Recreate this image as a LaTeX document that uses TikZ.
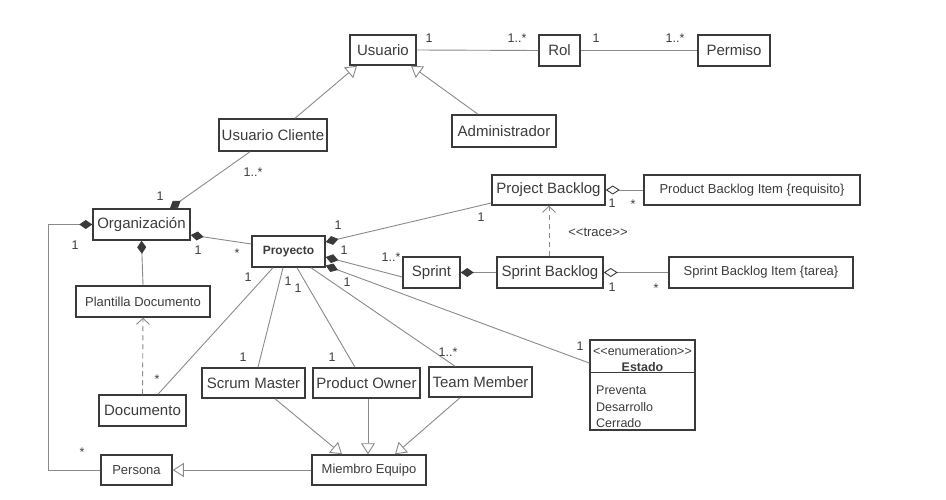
\documentclass[tikz,border=0pt]{standalone}
\usepackage{fontspec}
\setmainfont{Liberation Sans}
\usetikzlibrary{arrows.meta,calc}
\definecolor{boxc}{HTML}{3A3A3A}
\definecolor{linec}{HTML}{8A8A8A}
\definecolor{txt}{HTML}{3C3C3C}
\begin{document}
\begin{tikzpicture}[x=1pt,y=-1pt,
  box/.style={draw=boxc, line width=1.5pt, inner sep=0pt, text=txt, font=\fontsize{15}{17}\selectfont},
  sbox/.style={box, font=\fontsize{13}{15}\selectfont},
  conn/.style={draw=linec, line width=0.9pt},
  gen/.style={conn, -{Triangle[open, length=11pt, width=14pt]}},
  comp/.style={conn, {Diamond[length=13pt, width=9pt, color=boxc]}-},
  agg/.style={conn, {Diamond[open, length=14pt, width=9pt, color=boxc]}-},
  dep/.style={conn, dashed, dash pattern=on 5pt off 4pt, -{Straight Barb[length=6pt, width=13pt]}},
  mult/.style={inner sep=0pt, text=txt, font=\fontsize{12.5}{14}\selectfont},
  etext/.style={inner sep=0pt, text=txt, font=\fontsize{12.5}{14}\selectfont}
]
\path[use as bounding box, fill=white] (0,0) rectangle (946,500);

% classes
\node[box, minimum width=66pt, minimum height=30pt] (usuario) at (383,50) {Usuario};
\node[box, minimum width=41pt, minimum height=31pt] (rol) at (559.5,50.5) {Rol};
\node[box, minimum width=72pt, minimum height=31pt] (permiso) at (734,50.5) {Permiso};
\node[box, minimum width=104pt, minimum height=32pt] (admin) at (504,131) {Administrador};
\node[box, minimum width=108pt, minimum height=32pt] (ucliente) at (273,135) {Usuario Cliente};
\node[box, minimum width=97pt, minimum height=31pt] (org) at (141.5,224.5) {Organizaci\'on};
\node[sbox, minimum width=134pt, minimum height=31pt] (plantilla) at (143,301.5) {Plantilla Documento};
\node[box, minimum width=73pt, minimum height=31pt, font=\fontsize{12}{14}\selectfont\bfseries] (proyecto) at (288.5,251.5) {Proyecto};
\node[box, minimum width=113pt, minimum height=30pt] (pbacklog) at (548.5,190) {Project Backlog};
\node[sbox, minimum width=216pt, minimum height=30pt] (pbi) at (752,190) {Product Backlog Item \{requisito\}};
\node[box, minimum width=57pt, minimum height=31pt] (sprint) at (431.5,272.5) {Sprint};
\node[box, minimum width=106pt, minimum height=31pt] (sbacklog) at (550,272.5) {Sprint Backlog};
\node[sbox, minimum width=184pt, minimum height=31pt] (sbi) at (761,272.5) {Sprint Backlog Item \{tarea\}};
\node[box, minimum width=105pt, minimum height=90pt] (estado) at (642.5,385) {};
\draw[draw=boxc, line width=1.2pt] ([yshift=-33pt]estado.north west) -- ([yshift=-33pt]estado.north east);
\node[etext] (estst) at (642.5,351) {<\kern0pt<enumeration>\kern0pt>};
\node[etext, font=\fontsize{12.5}{14}\selectfont\bfseries] (estname) at (642.5,367) {Estado};
\node[etext, anchor=west] (est1) at (596,390) {Preventa};
\node[etext, anchor=west] (est2) at (596,407) {Desarrollo};
\node[etext, anchor=west] (est3) at (596,423) {Cerrado};
\node[box, minimum width=103pt, minimum height=30pt] (scrum) at (253.5,383) {Scrum Master};
\node[box, minimum width=107pt, minimum height=30pt] (powner) at (366.5,383) {Product Owner};
\node[box, minimum width=103pt, minimum height=30pt] (team) at (480.5,382) {Team Member};
\node[sbox, minimum width=114pt, minimum height=30pt] (miembro) at (369,470) {Miembro Equipo};
\node[sbox, minimum width=71pt, minimum height=30pt] (persona) at (136.5,470) {Persona};
\node[box, minimum width=87pt, minimum height=31pt] (documento) at (142.5,410.5) {Documento};

% connectors
\draw[conn] (usuario.east) -- (rol.west);
\draw[conn] (rol.east) -- (permiso.west);
\draw[gen] ([xshift=-26pt]admin.north) -- ([xshift=28pt]usuario.south);
\draw[gen] ([xshift=22pt]ucliente.north) -- ([xshift=-26pt]usuario.south);
\draw[comp] ([xshift=28.5pt]org.north) -- ([xshift=-23pt]ucliente.south);
\draw[comp] ([yshift=-10.5pt]org.east) -- ([yshift=7.5pt]proyecto.west);
\draw[comp] (org.south) -- (plantilla.north);
\draw[dep] (documento.north) -- (plantilla.south);
\draw[comp] (org.west) -- ++(-44,0) |- (persona.west);
\draw[comp] ([yshift=9.5pt]proyecto.east) -- ([yshift=-13pt]pbacklog.west);
\draw[comp] ([yshift=-5.5pt]proyecto.east) -- ([yshift=-4.5pt]sprint.west);
\draw[comp] ([yshift=-14pt]proyecto.east) -- ([yshift=22pt]estado.west);
\draw[comp] (sprint.east) -- (sbacklog.west);
\draw[dep] ([xshift=-1pt]sbacklog.north) -- ([xshift=0.5pt]pbacklog.south);
\draw[agg] (pbacklog.east) -- (pbi.west);
\draw[agg] (sbacklog.east) -- (sbi.west);
\draw[conn] ([xshift=-15.5pt]proyecto.south) -- ([xshift=15.5pt]documento.north);
\draw[conn] ([xshift=-5.5pt]proyecto.south) -- ([xshift=4.5pt]scrum.north);
\draw[conn] ([xshift=8.5pt]proyecto.south) -- ([xshift=-11.5pt]powner.north);
\draw[conn] ([xshift=22.5pt]proyecto.south) -- ([xshift=-25.5pt]team.north);
\draw[gen] ([xshift=21.5pt]scrum.south) -- ([xshift=-27pt]miembro.north);
\draw[gen] ([xshift=1.5pt]powner.south) -- ([xshift=-1pt]miembro.north);
\draw[gen] ([xshift=-20.5pt]team.south) -- ([xshift=26pt]miembro.north);
\draw[gen] (miembro.west) -- (persona.east);

% multiplicities and labels
\node[mult] (m1) at (429,38) {1};
\node[mult] (m2) at (517,38) {1..*};
\node[mult] (m3) at (596,38) {1};
\node[mult] (m4) at (675,38) {1..*};
\node[mult] (m5) at (253,172) {1..*};
\node[mult] (m6) at (160,196) {1};
\node[mult] (m7) at (75,245) {1};
\node[mult] (m8) at (82,452) {*};
\node[mult] (m9) at (198,250) {1};
\node[mult] (m10) at (237,253) {*};
\node[mult] (m11) at (338,225) {1};
\node[mult] (m12) at (481,217) {1};
\node[mult] (m13) at (344,250) {1};
\node[mult] (m14) at (391,257) {1..*};
\node[mult] (m15) at (347,282) {1};
\node[mult] (m16) at (580,346) {1};
\node[mult] (m17) at (612,203) {1};
\node[mult] (m18) at (633,204) {*};
\node[mult] (m19) at (612,287) {1};
\node[mult] (m20) at (656,288) {*};
\node[mult] (m21) at (248,277) {1};
\node[mult] (m22) at (288,281) {1};
\node[mult] (m23) at (298,288) {1};
\node[mult] (m24) at (157,379) {*};
\node[mult] (m25) at (243,357) {1};
\node[mult] (m26) at (332,357) {1};
\node[mult] (m27) at (448,352) {1..*};
\node[mult, font=\fontsize{13}{15}\selectfont] (trace) at (598,232) {<\kern0pt<trace>\kern0pt>};
\end{tikzpicture}
\end{document}
